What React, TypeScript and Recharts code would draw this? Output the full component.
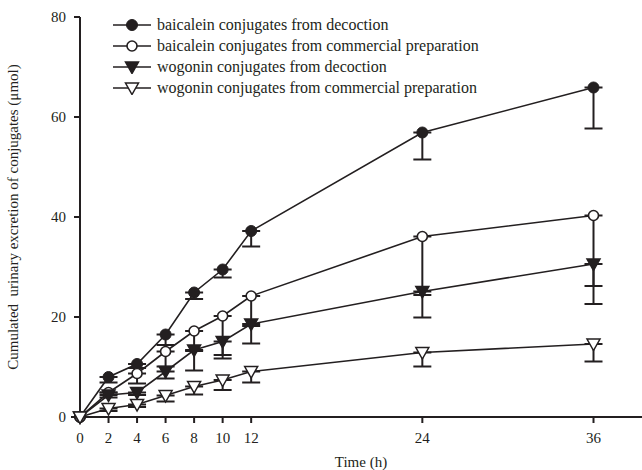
import React from "react";
import { LineChart, Line, XAxis, YAxis, ErrorBar } from "recharts";

const times = [0, 2, 4, 6, 8, 10, 12, 24, 36];
const xTicks = [0, 2, 4, 6, 8, 10, 12, 24, 36];
const yTicks = [0, 20, 40, 60, 80];

// mean values (µmol)
const baiDecoction = [0, 8.0, 10.6, 16.5, 24.9, 29.5, 37.2, 56.9, 65.9];
const baiCommercial = [0, 4.9, 8.7, 13.1, 17.2, 20.2, 24.2, 36.1, 40.3];
const wogDecoction = [0, 4.4, 4.9, 9.1, 13.4, 15.1, 18.6, 25.1, 30.6];
const wogCommercial = [0, 1.7, 2.5, 4.3, 6.1, 7.4, 9.1, 12.9, 14.6];

// SD, drawn downward only
const baiDecoctionSd = [0, 1.1, 0.8, 2.1, 1.3, 1.6, 3.1, 5.4, 8.2];
const baiCommercialSd = [0, 0, 2.0, 3.0, 4.0, 7.8, 6.0, 11.7, 14.1];
const wogDecoctionSd = [0, 0.5, 0.5, 1.4, 4.1, 3.4, 3.9, 5.2, 8.0];
const wogCommercialSd = [0, 0.5, 0.5, 1.2, 1.6, 2.0, 2.2, 2.8, 3.5];

const seriesNames = [
  "baicalein conjugates from decoction",
  "baicalein conjugates from commercial preparation",
  "wogonin conjugates from decoction",
  "wogonin conjugates from commercial preparation",
];

const data = times.map((t, i) => ({
  t,
  bd: baiDecoction[i],
  bc: baiCommercial[i],
  wd: wogDecoction[i],
  wc: wogCommercial[i],
  bdE: [baiDecoctionSd[i], 0],
  bcE: [baiCommercialSd[i], 0],
  wdE: [wogDecoctionSd[i], 0],
  wcE: [wogCommercialSd[i], 0],
}));

const INK = "#231f20";
const FONT = "'Liberation Serif', 'Times New Roman', serif";

type Kind = "dot" | "ring" | "down" | "downOpen";

function Marker({ kind, cx, cy }: { kind: Kind; cx: number; cy: number }) {
  if (kind === "dot") return <circle cx={cx} cy={cy} r={5.5} fill={INK} stroke={INK} />;
  if (kind === "ring")
    return <circle cx={cx} cy={cy} r={5} fill="#fff" stroke={INK} strokeWidth={1.6} />;
  const pts = `${cx - 6.5},${cy - 5} ${cx + 6.5},${cy - 5} ${cx},${cy + 6.5}`;
  return (
    <polygon
      points={pts}
      fill={kind === "down" ? INK : "#fff"}
      stroke={INK}
      strokeWidth={1.5}
    />
  );
}

const dotFor = (kind: Kind) => (p: any) =>
  <Marker key={`${kind}-${p.index}`} kind={kind} cx={p.cx} cy={p.cy} />;

const kinds: Kind[] = ["dot", "ring", "down", "downOpen"];

function LegendBox() {
  return (
    <div style={{ position: "absolute", left: 112, top: 14, fontFamily: FONT, fontSize: 16, color: INK }}>
      {seriesNames.map((name, i) => (
        <div key={name} style={{ display: "flex", alignItems: "center", height: 21 }}>
          <svg width={40} height={14} style={{ marginRight: 5 }}>
            <line x1={1} y1={7} x2={39} y2={7} stroke={INK} strokeWidth={1.6} />
            <Marker kind={kinds[i]} cx={20} cy={7} />
          </svg>
          <span>{name}</span>
        </div>
      ))}
    </div>
  );
}

export default function App() {
  const tickStyle = { fontFamily: FONT, fontSize: 15, fill: INK };
  const series = [
    { key: "bd", err: "bdE" },
    { key: "bc", err: "bcE" },
    { key: "wd", err: "wdE" },
    { key: "wc", err: "wcE" },
  ];
  return (
    <div style={{ position: "absolute", left: 0, top: 0, width: 642, height: 470, background: "#fff" }}>
      <LineChart width={642} height={470} data={data} margin={{ top: 17, right: 0, bottom: 0, left: 0 }}>
        <XAxis
          dataKey="t"
          type="number"
          domain={[0, 39.4]}
          ticks={xTicks}
          interval={0}
          height={53}
          stroke={INK}
          strokeWidth={2}
          tickSize={6}
          tickMargin={9}
          tick={tickStyle}
          label={{ value: "Time (h)", position: "insideBottom", offset: 3, style: { fontFamily: FONT, fontSize: 15, fill: INK } }}
        />
        <YAxis
          type="number"
          domain={[0, 80]}
          ticks={yTicks}
          width={80}
          stroke={INK}
          strokeWidth={2}
          tickSize={6}
          tickMargin={8}
          tick={tickStyle}
          label={{
            value: "Cumulated \u00a0urinary excretion of conjugates (\u03bcmol)",
            angle: -90,
            position: "insideLeft",
            offset: 13,
            style: { fontFamily: FONT, fontSize: 15, fill: INK, textAnchor: "middle" },
          }}
        />
        {series.map((s, i) => (
          <Line
            key={s.key}
            dataKey={s.key}
            type="linear"
            stroke={INK}
            strokeWidth={1.6}
            dot={dotFor(kinds[i])}
            activeDot={false}
            isAnimationActive={false}
          >
            <ErrorBar dataKey={s.err} width={9} stroke={INK} strokeWidth={2} direction="y" />
          </Line>
        ))}
      </LineChart>
      <LegendBox />
    </div>
  );
}
